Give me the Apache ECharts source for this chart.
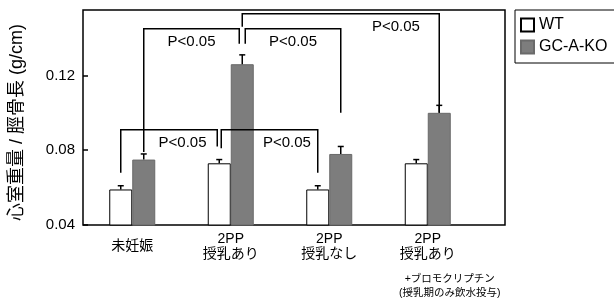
<!DOCTYPE html>
<html>
<head>
<meta charset="utf-8">
<script src="https://cdn.jsdelivr.net/npm/echarts@6/dist/echarts.min.js"></script>
<style>
html, body { margin: 0; padding: 0; background: #fff; }
#chart { width: 614px; height: 301px; }
</style>
</head>
<body>
<div id="chart"></div>
<script>
const categories = ['未妊娠', '2PP\n授乳あり', '2PP\n授乳なし', '2PP\n授乳あり\n+ブロモクリプチン\n(授乳期のみ飲水投与)']
const seriesNames = ['WT', 'GC-A-KO']
const wtValues = [0.059, 0.073, 0.059, 0.073]
const wtErrors = [0.002, 0.002, 0.002, 0.002]
const koValues = [0.075, 0.126, 0.078, 0.100]
const koErrors = [0.003, 0.005, 0.004, 0.004]
const yTicks = [0.04, 0.08, 0.12]
const yMax = 0.155

// significance brackets: [group, series] -> [group, series], bracket height, leg ends
const pLabel = 'P<0.05'
const bracketFrom = [[0, 1], [1, 1], [1, 1], [0, 0], [1, 0]]
const bracketTo = [[1, 1], [2, 1], [3, 1], [1, 0], [2, 0]]
const bracketTop = [0.145, 0.145, 0.153, 0.091, 0.091]
const legEndFrom = [0.079, 0.137, 0.146, 0.068, 0.081]
const legEndTo = [0.137, 0.100, 0.100, 0.082, 0.068]

const font = "'Liberation Sans', 'Noto Sans CJK JP', sans-serif"
const barW = 23
// pixel nudges so touching brackets don't overlap, and where the P label sits
const legShift = [[0, -3], [3, 0], [0, 0], [0, -2], [2, 0]]
const labelAt = [0.5, 0.5, 0.78, 0.64, 0.68]

let chart = echarts.init(document.getElementById('chart'))

const errorRender = (offset) => (params, api) => {
	const x = api.value(0), v = api.value(1), e = api.value(2)
	const p0 = api.coord([x, v]), p1 = api.coord([x, v + e])
	const cx = p0[0] + offset
	const st = { stroke: '#000', lineWidth: 1.5 }
	return {
		type: 'group',
		children: [
			{ type: 'line', shape: { x1: cx, y1: p0[1], x2: cx, y2: p1[1] }, style: st },
			{ type: 'line', shape: { x1: cx - 3, y1: p1[1], x2: cx + 3, y2: p1[1] }, style: st },
		]
	}
}

const bracketRender = (params, api) => {
	const i = params.dataIndex
	const a = bracketFrom[i], b = bracketTo[i]
	const off = s => (s === 0 ? -1 : 1) * barW / 2
	const xa = api.coord([a[0], yTicks[0]])[0] + off(a[1]) + legShift[i][0]
	const xb = api.coord([b[0], yTicks[0]])[0] + off(b[1]) + legShift[i][1]
	const yt = api.coord([0, bracketTop[i]])[1]
	const ya = api.coord([0, legEndFrom[i]])[1]
	const yb = api.coord([0, legEndTo[i]])[1]
	return {
		type: 'group',
		children: [
			{
				type: 'polyline',
				shape: { points: [[xa, ya], [xa, yt], [xb, yt], [xb, yb]] },
				style: { stroke: '#000', lineWidth: 1.5, fill: null }
			},
			{
				type: 'text',
				x: xa + (xb - xa) * labelAt[i],
				y: yt + 13,
				style: { text: pLabel, fontSize: 15, fontFamily: font, fill: '#000', align: 'center', verticalAlign: 'middle' }
			}
		]
	}
}

chart.setOption({
	animation: false,
	textStyle: { fontFamily: font, color: '#000' },
	grid: [
		{ left: 83, top: 10, width: 394, bottom: 76, outerBoundsMode: 'none' },
		// frame box only
		{ left: 83, top: 10, right: 109, bottom: 76, outerBoundsMode: 'none', show: true, borderColor: '#000', borderWidth: 1.5, backgroundColor: 'transparent' }
	],
	legend: {
		data: seriesNames,
		orient: 'vertical',
		left: 515,
		top: 10,
		icon: 'rect',
		itemWidth: 13,
		itemHeight: 13,
		itemGap: 6,
		padding: [7, 8, 8, 5],
		borderColor: '#000',
		borderWidth: 1,
		textStyle: { fontSize: 16, fontFamily: font, color: '#000' }
	},
	xAxis: [
		{
			type: 'category',
			data: categories,
			gridIndex: 0,
			axisLine: { show: false },
			axisTick: { show: false },
			axisLabel: {
				interval: 0,
				margin: 7,
				color: '#000',
				fontSize: 14,
				lineHeight: 15,
				formatter: (v) => {
					const lines = v.split('\n')
					if (lines.length === 1) return '{one|' + v + '}'
					const out = lines.map((l, i) => (i >= 2 ? '{s|' + l + '}' : '{n|' + l + '}'))
					if (out.length > 2) out.splice(2, 0, '{gap| }')
					return out.join('\n')
				},
				rich: {
					one: { fontSize: 14, lineHeight: 29, fontFamily: font },
					n: { fontSize: 14, lineHeight: 15, fontFamily: font },
					gap: { fontSize: 4, lineHeight: 10 },
					s: { fontSize: 10.5, lineHeight: 14, padding: [0, 0, 0, 44], fontFamily: font }
				}
			}
		},
		{ type: 'value', gridIndex: 1, show: false }
	],
	yAxis: [
		{
			type: 'value',
			gridIndex: 0,
			min: yTicks[0],
			max: yMax,
			interval: 0.04,
			name: '心室重量 / 脛骨長 (g/cm)',
			nameLocation: 'middle',
			nameGap: 57,
			nameTextStyle: { fontSize: 18, fontFamily: font, color: '#000', padding: [0, 10, 0, 0] },
			axisLine: { show: false },
			axisTick: { show: true, inside: true, length: 5, lineStyle: { color: '#000', width: 1.5 } },
			splitLine: { show: false },
			axisLabel: { fontSize: 15, color: '#000', margin: 8, showMaxLabel: false, formatter: v => v.toFixed(2) }
		},
		{ type: 'value', gridIndex: 1, show: false }
	],
	series: [
		{
			name: seriesNames[0],
			type: 'bar',
			data: wtValues,
			barWidth: barW,
			barGap: '0%',
			itemStyle: { color: '#fff', borderColor: '#000', borderWidth: 1 }
		},
		{
			name: seriesNames[1],
			type: 'bar',
			data: koValues,
			barWidth: barW,
			barGap: '0%',
			itemStyle: { color: '#7d7d7d', borderColor: '#6a6a6a', borderWidth: 1 }
		},
		{
			type: 'custom',
			renderItem: errorRender(-barW / 2),
			data: wtValues.map((v, i) => [i, v, wtErrors[i]]),
			z: 5,
			clip: false
		},
		{
			type: 'custom',
			renderItem: errorRender(barW / 2),
			data: koValues.map((v, i) => [i, v, koErrors[i]]),
			z: 5,
			clip: false
		},
		{
			type: 'custom',
			renderItem: bracketRender,
			data: bracketTop.map((y, i) => [bracketFrom[i][0], y]),
			z: 6,
			clip: false
		}
	]
})
</script>
</body>
</html>
